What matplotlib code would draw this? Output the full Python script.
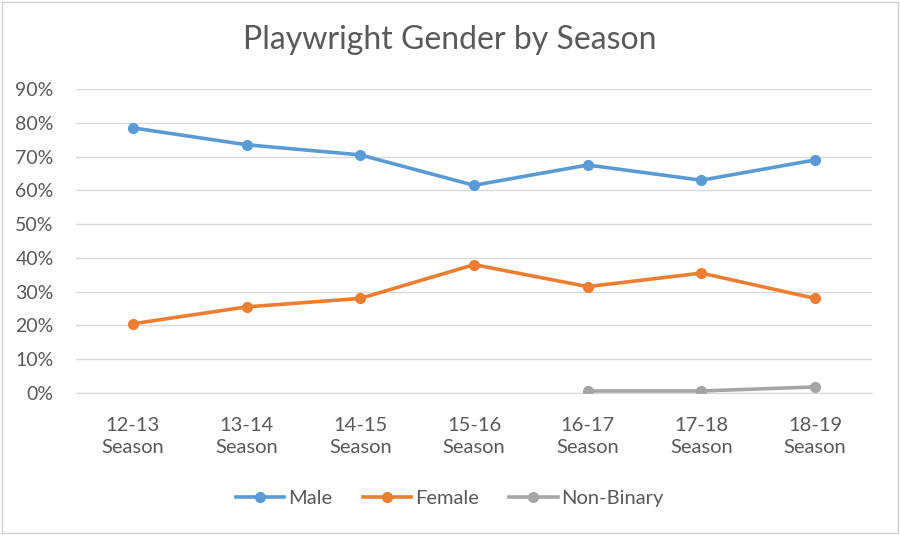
import matplotlib.pyplot as plt
from matplotlib.patches import Rectangle
from matplotlib.ticker import PercentFormatter

seasons = ["12-13\nSeason", "13-14\nSeason", "14-15\nSeason", "15-16\nSeason",
           "16-17\nSeason", "17-18\nSeason", "18-19\nSeason"]
male = [0.785, 0.735, 0.705, 0.615, 0.675, 0.63, 0.69]
female = [0.205, 0.255, 0.28, 0.38, 0.315, 0.355, 0.28]
nb_idx = [4, 5, 6]
non_binary = [0.006, 0.006, 0.018]

plt.rcParams["font.family"] = ["Lato", "DejaVu Sans"]

fig = plt.figure(figsize=(9, 5.35), dpi=100)
ax = fig.add_axes([0.0844, 0.2654, 0.8845, 0.5682])

x = list(range(len(seasons)))
ax.plot(x, male, color="#5B9BD5", lw=2.6, marker="o", ms=7, label="Male", zorder=3)
ax.plot(x, female, color="#ED7D31", lw=2.6, marker="o", ms=7, label="Female", zorder=3)
ax.plot(nb_idx, non_binary, color="#A5A5A5", lw=2.6, marker="o", ms=7, label="Non-Binary", zorder=3)

ax.set_xlim(-0.5, len(seasons) - 0.5)
ax.set_ylim(0, 0.9)
ax.set_yticks([i / 10 for i in range(10)])
ax.yaxis.set_major_formatter(PercentFormatter(1.0, decimals=0))
ax.set_xticks(x)
ax.set_xticklabels(seasons, fontsize=14.5, linespacing=1.4)
ax.grid(axis="y", color="#D9D9D9", lw=1)
ax.set_axisbelow(True)
for s in ax.spines.values():
    s.set_visible(False)
ax.spines["bottom"].set_visible(True)
ax.spines["bottom"].set_color("#D9D9D9")
ax.tick_params(length=0, labelcolor="#595959")
ax.tick_params(axis="y", labelsize=14, pad=16)
ax.tick_params(axis="x", pad=17)

fig.text(0.5, 0.925, "Playwright Gender by Season", ha="center", va="center",
         fontsize=23, color="#595959")
fig.legend(loc="center", bbox_to_anchor=(0.5, 0.069), ncol=3, frameon=False,
           fontsize=14.5, labelcolor="#595959", handlelength=2.4, columnspacing=1.5,
           handletextpad=0.2)

fig.patches.append(Rectangle((0.002, 0.003), 0.996, 0.994, transform=fig.transFigure,
                             fill=False, edgecolor="#D0D0D0", lw=1))

fig.savefig("out.png", dpi=100, facecolor="white")
